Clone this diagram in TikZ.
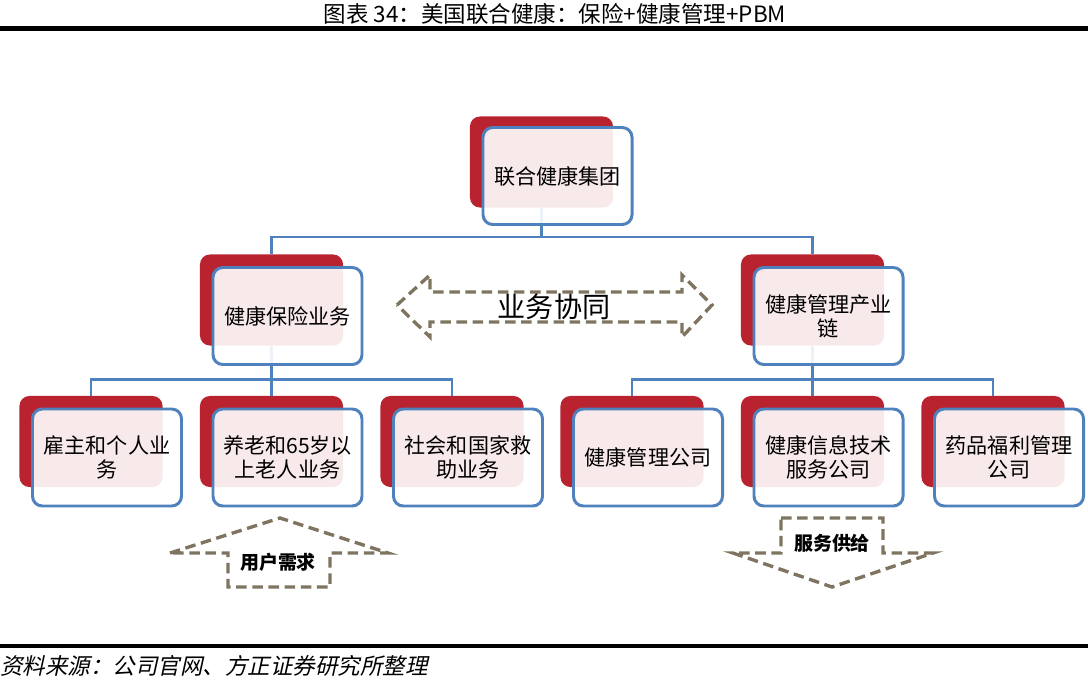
\documentclass[tikz,border=0pt]{standalone}
\usepackage{fontspec}
\setmainfont{Noto Sans CJK SC}
\newfontfamily\slantfont[FakeSlant=0.22]{Noto Sans CJK SC}
\usetikzlibrary{positioning, calc}
\definecolor{backred}{RGB}{185, 35, 48}
\definecolor{frameblue}{RGB}{79, 129, 189}
\definecolor{dashbrown}{RGB}{126, 116, 96}

\begin{document}
\begin{tikzpicture}[
  x=0.025cm, y=-0.025cm,
  backbox/.style={fill=backred, rounded corners=7pt, minimum width=3.575cm, minimum height=2.275cm, inner sep=0pt},
  frontbox/.style={draw=frameblue, line width=2.1pt, fill=white, fill opacity=0.9, text opacity=1, rounded corners=7pt, minimum width=3.725cm, minimum height=2.425cm, text width=3.5cm, align=center, inner sep=0pt, font=\fontsize{15}{17}\selectfont},
  link/.style={draw=frameblue, line width=2.1pt},
  flowarrow/.style={draw=dashbrown, line width=2.4pt, dash pattern=on 7.5pt off 4pt}
]
  \useasboundingbox (0,0) rectangle (1088,686);

  % title and rules
  \node[font=\fontsize{16}{16}\selectfont] (title) at (555,14) {图表 34：美国联合健康：保险+健康管理+PBM};
  \fill (0,26) rectangle (1088,31);
  \fill (0,644) rectangle (1088,648);
  \node[anchor=west, inner sep=0pt, font=\slantfont\fontsize{16}{16}\selectfont] (source) at (0,666) {资料来源：公司官网、方正证券研究所整理};

  % red backing boxes
  \node[backbox] (grpbk) at (541.5,162) {};
  \node[backbox] (insbk) at (271.5,300) {};
  \node[backbox] (mgtbk) at (812.5,300) {};
  \node[backbox] (empbk) at (91,441.5) {};
  \node[backbox] (eldbk) at (271.5,441.5) {};
  \node[backbox] (socbk) at (452,441.5) {};
  \node[backbox] (hmcbk) at (632,441.5) {};
  \node[backbox] (hitbk) at (812.5,441.5) {};
  \node[backbox] (pbmbk) at (993,441.5) {};

  % tree lines
  \coordinate (bus1) at (541.5,237);
  \coordinate (bus2l) at (271.5,379.5);
  \coordinate (bus2r) at (812.5,379.5);
  \draw[link] (grpbk.south) -- (bus1);
  \draw[link] (insbk.north) |- (bus1) -| (mgtbk.north);
  \draw[link] (insbk.south) -- (bus2l);
  \draw[link] (empbk.north) |- (bus2l) -| (socbk.north);
  \draw[link] (eldbk.north) -- (bus2l);
  \draw[link] (mgtbk.south) -- (bus2r);
  \draw[link] (hmcbk.north) |- (bus2r) -| (pbmbk.north);
  \draw[link] (hitbk.north) -- (bus2r);

  % front boxes
  \node[frontbox] (grp) at ($(grpbk)+(16,14)$) {联合健康集团};
  \node[frontbox] (ins) at ($(insbk)+(16,16)$) {健康保险业务};
  \node[frontbox] (mgt) at ($(mgtbk)+(16,16)$) {健康管理产业\\链};
  \node[frontbox] (emp) at ($(empbk)+(16,16)$) {雇主和个人业\\务};
  \node[frontbox] (eld) at ($(eldbk)+(16,16)$) {养老和65岁以\\上老人业务};
  \node[frontbox] (soc) at ($(socbk)+(16,16)$) {社会和国家救\\助业务};
  \node[frontbox] (hmc) at ($(hmcbk)+(16,16)$) {健康管理公司};
  \node[frontbox] (hit) at ($(hitbk)+(16,16)$) {健康信息技术\\服务公司};
  \node[frontbox] (pbm) at ($(pbmbk)+(16,16)$) {药品福利管理\\公司};

  % dashed block arrows
  \draw[flowarrow] (397,305) -- (430,275) -- (430,292) -- (682,292) -- (682,275) -- (712,305) -- (682,337) -- (682,322) -- (430,322) -- (430,337) -- cycle;
  \node[font=\fontsize{20}{20}\selectfont] (synergy) at (554,307) {业务协同};

  \draw[flowarrow] (170,553) -- (280,518) -- (388,553) -- (330,553) -- (330,587) -- (228,587) -- (228,553) -- cycle;
  \node[font=\bfseries\fontsize{13.5}{14}\selectfont] (demand) at (278,562) {用户需求};

  \draw[flowarrow] (781,518) -- (883,518) -- (883,553) -- (933,553) -- (832,587) -- (733,553) -- (781,553) -- cycle;
  \node[font=\bfseries\fontsize{13.5}{14}\selectfont] (supply) at (832,543) {服务供给};
\end{tikzpicture}
\end{document}
